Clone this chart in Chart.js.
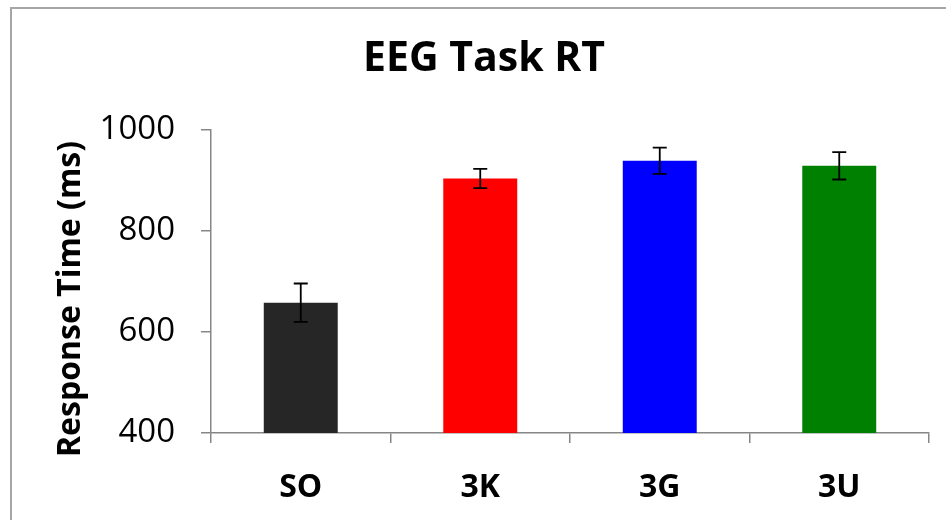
<!DOCTYPE html>
<html>
<head>
<meta charset="utf-8">
<script src="https://cdn.jsdelivr.net/npm/chart.js@4/dist/chart.umd.min.js"></script>
<style>
  html, body { margin: 0; padding: 0; background: #ffffff; }
  #wrap { width: 946px; height: 520px; position: relative; }
</style>
</head>
<body>
<div id="wrap"><canvas id="c" width="946" height="520"></canvas></div>
<script>
// Mean response time per condition, with error bar half-widths
const categories = ['SO', '3K', '3G', '3U'];
const meanRT = [658, 904, 939, 929];
const errRT = [38, 19, 26, 27];
const barColors = ['#262626', '#ff0000', '#0000ff', '#008000'];
const yTicks = [400, 600, 800, 1000];
const chartTitle = 'EEG Task RT';
const yAxisTitle = 'Response Time (ms)';

const FONT = "'Open Sans', 'Liberation Sans', sans-serif";

// Draws the vertical error bars with caps on each bar
const errorBars = {
  id: 'errorBars',
  afterDatasetsDraw(chart) {
    const ctx = chart.ctx;
    const meta = chart.getDatasetMeta(0);
    const y = chart.scales.y;
    ctx.save();
    ctx.strokeStyle = '#000000';
    ctx.lineWidth = 1.8;
    meta.data.forEach((bar, i) => {
      const x = bar.x;
      const top = y.getPixelForValue(meanRT[i] + errRT[i]);
      const bot = y.getPixelForValue(meanRT[i] - errRT[i]);
      ctx.beginPath();
      ctx.moveTo(x, top); ctx.lineTo(x, bot);
      ctx.moveTo(x - 7, top); ctx.lineTo(x + 7, top);
      ctx.moveTo(x - 7, bot); ctx.lineTo(x + 7, bot);
      ctx.stroke();
    });
    ctx.restore();
  }
};

// White background plus a light gray frame along the top and left edges
const frame = {
  id: 'frame',
  beforeDraw(chart) {
    const ctx = chart.ctx;
    ctx.save();
    ctx.fillStyle = '#ffffff';
    ctx.fillRect(0, 0, chart.width, chart.height);
    ctx.strokeStyle = '#a6a6a6';
    ctx.lineWidth = 2;
    ctx.beginPath();
    ctx.moveTo(11, chart.height);
    ctx.lineTo(11, 8);
    ctx.lineTo(chart.width, 8);
    ctx.stroke();
    ctx.restore();
  }
};

// Chart title and rotated value-axis title
const titles = {
  id: 'titles',
  afterDraw(chart) {
    const ctx = chart.ctx;
    ctx.save();
    ctx.fillStyle = '#000000';
    ctx.textAlign = 'center';
    ctx.textBaseline = 'alphabetic';
    ctx.font = 'bold 41px ' + FONT;
    ctx.fillText(chartTitle, 484, 71);
    ctx.translate(80, 299);
    ctx.rotate(-Math.PI / 2);
    ctx.font = 'bold 32px ' + FONT;
    ctx.fillText(yAxisTitle, 0, 0);
    ctx.restore();
  }
};

new Chart(document.getElementById('c'), {
  type: 'bar',
  data: {
    labels: categories,
    datasets: [{
      data: meanRT,
      backgroundColor: barColors,
      borderWidth: 0,
      barPercentage: 0.412,
      categoryPercentage: 1.0
    }]
  },
  options: {
    responsive: false,
    animation: false,
    devicePixelRatio: 1,
    layout: { padding: { left: 0, right: 17, top: 130, bottom: 0 } },
    plugins: {
      legend: { display: false },
      tooltip: { enabled: false },
      title: { display: false }
    },
    scales: {
      x: {
        afterFit(s) { s.height = 87; },
        grid: {
          offset: true,
          drawOnChartArea: false,
          drawTicks: true,
          tickLength: 10,
          color: '#868686',
          lineWidth: 1.5
        },
        border: { display: true, color: '#868686', width: 1.5 },
        ticks: {
          color: '#000000',
          padding: 26,
          font: { family: FONT, size: 32, weight: 'bold' }
        }
      },
      y: {
        min: 400,
        max: 1000,
        afterFit(s) { s.width = 211; },
        afterBuildTicks(s) { s.ticks = yTicks.map(v => ({ value: v })); },
        grid: {
          drawOnChartArea: false,
          drawTicks: true,
          tickLength: 10,
          color: '#868686',
          lineWidth: 1.5
        },
        border: { display: true, color: '#868686', width: 1.5 },
        ticks: {
          color: '#000000',
          padding: 26,
          font: { family: FONT, size: 33 },
          callback: v => String(v)
        }
      }
    }
  },
  plugins: [frame, errorBars, titles]
});
</script>
</body>
</html>
